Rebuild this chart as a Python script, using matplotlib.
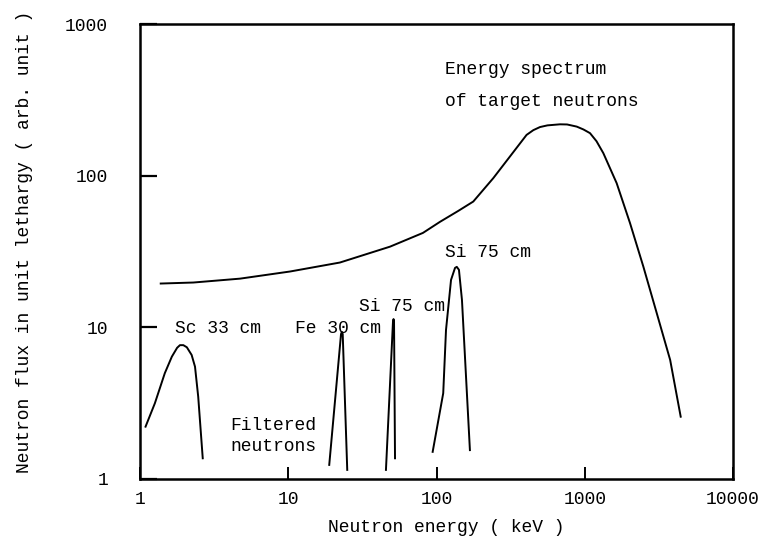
import numpy as np
import matplotlib.pyplot as plt

plt.rcParams['font.family'] = ['Liberation Mono', 'DejaVu Sans Mono']

# energy spectrum of target neutrons (keV, arb. unit)
target_e = [1.38, 2.29, 4.73, 10.3, 22.3, 48.6, 81, 105.6, 140, 177, 241.6, 313, 405,
            450, 499, 560, 681, 760, 883, 980, 1085, 1200, 1334, 1641, 2020, 2484,
            3056, 3767, 4437]
target_flux = [19.4, 19.7, 20.9, 23.3, 26.7, 34, 41.9, 49.6, 58.5, 67.5, 96.4, 134, 186,
               200, 209.6, 215, 218.5, 218, 211, 202, 191, 169, 141, 89.3, 48.6, 25.1,
               12.4, 6.07, 2.56]

# filtered neutron peaks
sc_e = [1.09, 1.26, 1.47, 1.64, 1.78, 1.86, 1.96, 2.07, 2.23, 2.35, 2.47, 2.65]
sc_flux = [2.2, 3.14, 4.96, 6.38, 7.3, 7.6, 7.6, 7.36, 6.55, 5.48, 3.47, 1.36]

fe_e = [18.9, 22.7, 23.0, 23.3, 25.0]
fe_flux = [1.23, 9.0, 9.3, 9.0, 1.14]

si1_e = [45.6, 50.9, 51.3, 51.7, 52.5]
si1_flux = [1.14, 11.0, 11.3, 11.0, 1.36]

si2_e = [94.2, 111, 115.9, 125.3, 133.3, 137, 141.7, 148.5, 168]
si2_flux = [1.50, 3.66, 9.57, 20.5, 24.6, 25, 23.9, 15.1, 1.54]

x_ticks = [1, 10, 100, 1000, 10000]
y_ticks = [1, 10, 100, 1000]

fig = plt.figure(figsize=(7.6, 5.45), dpi=100)
ax = fig.add_axes([0.1842, 0.122, 0.7803, 0.8334])

lw = 1.4
ax.plot(target_e, target_flux, color='black', lw=lw)
for e, f in [(sc_e, sc_flux), (fe_e, fe_flux), (si1_e, si1_flux), (si2_e, si2_flux)]:
    ax.plot(e, f, color='black', lw=lw)

ax.set_xscale('log')
ax.set_yscale('log')
ax.set_xlim(1, 10000)
ax.set_ylim(1, 1000)
ax.minorticks_off()
ax.set_xticks(x_ticks)
ax.set_xticklabels([str(t) for t in x_ticks])
ax.set_yticks(y_ticks)
ax.set_yticklabels([str(t) for t in y_ticks])
ax.tick_params(axis='y', direction='in', length=12, width=1.6, pad=23, labelsize=13)
ax.tick_params(axis='x', direction='in', length=9, width=1.4, pad=9, labelsize=13)
for s in ax.spines.values():
    s.set_linewidth(1.8)

fs = 13
ax.text(114, 501, 'Energy spectrum', fontsize=fs, va='center')
ax.text(114, 309, 'of target neutrons', fontsize=fs, va='center')
ax.text(114, 30.9, 'Si 75 cm', fontsize=fs, va='center')
ax.text(30.0, 13.7, 'Si 75 cm', fontsize=fs, va='center')
ax.text(11.1, 9.73, 'Fe 30 cm', fontsize=fs, va='center')
ax.text(1.72, 9.73, 'Sc 33 cm', fontsize=fs, va='center')
ax.text(4.05, 2.23, 'Filtered', fontsize=fs, va='center')
ax.text(4.05, 1.62, 'neutrons', fontsize=fs, va='center')

fig.text(0.587, 1 - 527 / 545, 'Neutron energy ( keV )', fontsize=fs,
         ha='center', va='center')
fig.text(25 / 760, 1 - 242 / 545, 'Neutron flux in unit lethargy ( arb. unit )',
         fontsize=fs, rotation=90, ha='center', va='center')

fig.savefig('out.png', dpi=100)
